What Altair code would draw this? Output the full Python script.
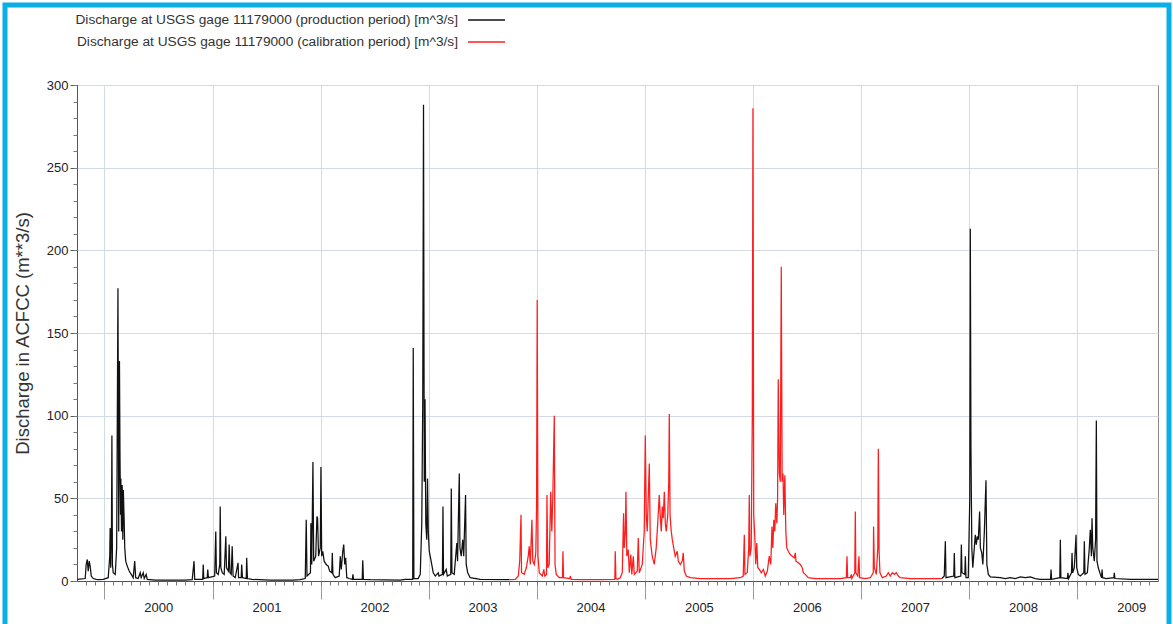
import altair as alt
import pandas as pd

# ---- vertices of the daily hydrograph: (decimal year, discharge m^3/s)
prod_wy2000 = [
    (1999.750, 1.0), (1999.824, 1.5), (1999.833, 10), (1999.843, 13), (1999.852, 6), (1999.861, 12),
    (1999.870, 9), (1999.880, 3), (1999.898, 1.5), (1999.926, 1.0), (1999.944, 0.8), (1999.991, 1.0),
    (2000.037, 2), (2000.051, 15), (2000.055, 32), (2000.060, 8), (2000.067, 30), (2000.071, 88),
    (2000.076, 10), (2000.083, 5), (2000.102, 4), (2000.115, 20), (2000.127, 177), (2000.134, 30),
    (2000.141, 133), (2000.146, 75), (2000.151, 40), (2000.154, 62), (2000.160, 30), (2000.166, 58),
    (2000.172, 25), (2000.177, 55), (2000.185, 35), (2000.190, 20), (2000.199, 12), (2000.213, 9),
    (2000.231, 6), (2000.250, 4), (2000.268, 2), (2000.282, 12), (2000.291, 2), (2000.314, 1.5),
    (2000.333, 5), (2000.342, 2), (2000.361, 5), (2000.370, 1.5), (2000.388, 4), (2000.398, 1),
    (2000.472, 0.5), (2000.749, 0.5),
]
prod_wy2001 = [
    (2000.814, 0.8), (2000.831, 12), (2000.837, 1), (2000.911, 1), (2000.916, 10), (2000.921, 1.5),
    (2000.953, 2), (2000.958, 7), (2000.964, 2), (2001.022, 3), (2001.032, 30), (2001.038, 5),
    (2001.055, 4), (2001.069, 10), (2001.073, 45), (2001.079, 8), (2001.092, 5), (2001.110, 4),
    (2001.125, 27), (2001.131, 8), (2001.149, 6), (2001.156, 22), (2001.163, 5), (2001.175, 4),
    (2001.184, 21), (2001.192, 3), (2001.212, 2), (2001.238, 11), (2001.243, 2), (2001.267, 2),
    (2001.272, 10), (2001.279, 2), (2001.314, 1.5), (2001.318, 14), (2001.325, 1.5), (2001.369, 1),
    (2001.536, 0.5), (2001.749, 0.5),
]
prod_wy2002 = [
    (2001.813, 0.8), (2001.860, 1.5), (2001.869, 37), (2001.876, 3), (2001.908, 5), (2001.912, 35),
    (2001.920, 10), (2001.931, 72), (2001.938, 12), (2001.957, 15), (2001.968, 39), (2001.974, 38),
    (2001.983, 15), (2001.999, 20), (2002.005, 69), (2002.012, 15), (2002.022, 18), (2002.035, 12),
    (2002.054, 10), (2002.072, 9), (2002.086, 6), (2002.105, 5), (2002.110, 17), (2002.116, 4),
    (2002.137, 2), (2002.174, 3), (2002.184, 15), (2002.193, 7), (2002.207, 18), (2002.216, 22),
    (2002.225, 10), (2002.234, 14), (2002.244, 2), (2002.267, 1.5), (2002.296, 1), (2002.301, 4),
    (2002.307, 1), (2002.387, 1), (2002.392, 12.5), (2002.398, 1), (2002.461, 0.8), (2002.739, 0.5),
]
prod_wy2003 = [
    (2002.785, 1), (2002.854, 1), (2002.859, 141), (2002.865, 1.5), (2002.905, 1.5), (2002.924, 4),
    (2002.938, 35), (2002.947, 110), (2002.954, 288), (2002.961, 60), (2002.968, 110), (2002.975, 35),
    (2002.984, 25), (2002.991, 62), (2002.998, 30), (2003.007, 18), (2003.016, 15), (2003.030, 10),
    (2003.044, 5), (2003.063, 3), (2003.090, 5), (2003.098, 3), (2003.129, 4), (2003.134, 45),
    (2003.139, 4), (2003.164, 7), (2003.174, 3), (2003.206, 4), (2003.211, 56), (2003.217, 5),
    (2003.238, 4), (2003.262, 23), (2003.269, 12), (2003.285, 65), (2003.291, 20), (2003.303, 15),
    (2003.317, 25), (2003.326, 15), (2003.343, 52), (2003.349, 10), (2003.363, 5), (2003.386, 2),
    (2003.479, 1), (2003.750, 0.8),
]
cal_wy2004 = [
    (2003.750, 0.8), (2003.803, 1), (2003.831, 3), (2003.844, 12), (2003.856, 40), (2003.861, 5),
    (2003.886, 4), (2003.905, 8), (2003.923, 15), (2003.932, 21), (2003.942, 10), (2003.957, 37),
    (2003.965, 12), (2003.979, 10), (2003.993, 17), (2004.000, 45), (2004.006, 170), (2004.013, 15),
    (2004.025, 5), (2004.053, 3), (2004.067, 7), (2004.076, 3), (2004.092, 4), (2004.096, 52),
    (2004.104, 8), (2004.117, 10), (2004.131, 54), (2004.141, 30), (2004.150, 50), (2004.164, 100),
    (2004.171, 10), (2004.182, 4), (2004.210, 2), (2004.240, 2), (2004.244, 18), (2004.250, 2),
    (2004.307, 1.5), (2004.312, 3), (2004.321, 1), (2004.404, 0.8), (2004.589, 0.8), (2004.724, 1),
    (2004.728, 18), (2004.734, 1.5),
]
cal_wy2005 = [
    (2004.747, 1), (2004.774, 2), (2004.793, 5), (2004.805, 41), (2004.811, 20), (2004.821, 30),
    (2004.827, 54), (2004.835, 15), (2004.848, 19), (2004.858, 5), (2004.872, 16), (2004.881, 4),
    (2004.895, 15), (2004.904, 4), (2004.932, 6), (2004.941, 26), (2004.950, 5), (2004.978, 10),
    (2004.996, 30), (2005.006, 88), (2005.015, 40), (2005.024, 30), (2005.033, 50), (2005.043, 71),
    (2005.052, 25), (2005.070, 15), (2005.089, 10), (2005.107, 20), (2005.121, 35), (2005.135, 52),
    (2005.144, 40), (2005.154, 30), (2005.163, 45), (2005.172, 38), (2005.182, 54), (2005.191, 35),
    (2005.200, 30), (2005.214, 40), (2005.223, 60), (2005.228, 101), (2005.235, 40), (2005.246, 30),
    (2005.256, 25), (2005.269, 20), (2005.283, 15), (2005.302, 18), (2005.311, 12), (2005.330, 10),
    (2005.348, 12), (2005.357, 17), (2005.367, 6), (2005.385, 3), (2005.422, 2), (2005.515, 1.5),
    (2005.700, 1.5),
]
cal_wy2006 = [
    (2005.792, 1.5), (2005.885, 2), (2005.912, 3), (2005.922, 28), (2005.928, 4), (2005.949, 5),
    (2005.963, 20), (2005.968, 52), (2005.974, 15), (2005.986, 20), (2005.996, 100), (2006.002, 286),
    (2006.009, 40), (2006.019, 27), (2006.028, 10), (2006.037, 23), (2006.047, 8), (2006.061, 7),
    (2006.079, 5), (2006.098, 7), (2006.116, 3), (2006.135, 6), (2006.153, 15), (2006.167, 10),
    (2006.178, 33), (2006.186, 20), (2006.195, 37), (2006.204, 30), (2006.213, 47), (2006.223, 35),
    (2006.230, 50), (2006.236, 122), (2006.246, 65), (2006.255, 60), (2006.264, 190), (2006.272, 60),
    (2006.280, 65), (2006.287, 40), (2006.297, 64), (2006.306, 30), (2006.315, 20), (2006.329, 18),
    (2006.347, 16), (2006.366, 15), (2006.384, 14), (2006.394, 17), (2006.400, 12), (2006.421, 11),
    (2006.440, 10), (2006.458, 8), (2006.468, 5), (2006.486, 4), (2006.514, 2), (2006.579, 1.5),
    (2006.718, 1.5),
]
cal_wy2007 = [
    (2006.810, 1.5), (2006.866, 2), (2006.872, 15), (2006.878, 2), (2006.903, 2), (2006.912, 4),
    (2006.917, 1.5), (2006.944, 5), (2006.949, 42), (2006.954, 5), (2006.972, 3), (2006.983, 15),
    (2006.989, 2), (2007.041, 1.5), (2007.088, 2), (2007.115, 5), (2007.118, 33), (2007.125, 8),
    (2007.143, 4), (2007.157, 20), (2007.162, 80), (2007.169, 18), (2007.177, 5), (2007.199, 2),
    (2007.236, 3), (2007.254, 5), (2007.273, 3), (2007.291, 5), (2007.310, 4), (2007.328, 5),
    (2007.347, 3), (2007.365, 2), (2007.458, 1.5), (2007.750, 1.5),
]
prod_wy2008 = [
    (2007.750, 1.5), (2007.772, 3), (2007.782, 24), (2007.788, 2), (2007.860, 3), (2007.865, 17),
    (2007.870, 2), (2007.925, 3), (2007.930, 22), (2007.936, 5), (2007.962, 4), (2007.967, 15),
    (2007.973, 2), (2007.994, 2), (2008.008, 50), (2008.013, 213), (2008.019, 80), (2008.027, 20),
    (2008.036, 8), (2008.050, 20), (2008.059, 28), (2008.068, 22), (2008.078, 27), (2008.087, 25),
    (2008.099, 42), (2008.106, 20), (2008.119, 17), (2008.129, 10), (2008.143, 30), (2008.158, 61),
    (2008.166, 10), (2008.180, 4), (2008.198, 2.5), (2008.291, 2), (2008.337, 1.5), (2008.383, 2),
    (2008.429, 1.5), (2008.476, 2.5), (2008.522, 2), (2008.568, 2.5), (2008.614, 1.5), (2008.661, 1),
    (2008.753, 1),
]
prod_wy2009 = [
    (2008.755, 1), (2008.760, 7), (2008.765, 1), (2008.841, 2), (2008.846, 25), (2008.851, 2),
    (2008.911, 1.5), (2008.916, 5), (2008.922, 1.5), (2008.949, 5), (2008.954, 17), (2008.960, 5),
    (2008.975, 8), (2008.991, 28), (2008.997, 8), (2009.012, 4), (2009.031, 3), (2009.063, 5),
    (2009.068, 24), (2009.074, 4), (2009.096, 5), (2009.114, 20), (2009.123, 31), (2009.133, 15),
    (2009.139, 38), (2009.146, 20), (2009.160, 12), (2009.172, 25), (2009.179, 97), (2009.185, 12),
    (2009.197, 8), (2009.216, 4), (2009.227, 2), (2009.232, 7), (2009.237, 2), (2009.271, 1.5),
    (2009.341, 2), (2009.345, 5), (2009.351, 1.5), (2009.493, 1), (2009.750, 1),
]

legend_labels = [
    "Discharge at USGS gage 11179000 (production period)  [m^3/s]",
    "Discharge at USGS gage 11179000  (calibration period) [m^3/s]",
]
y_title = "Discharge in ACFCC (m**3/s)"
year_ticks = list(range(2000, 2010))


def to_frame(pairs, seg):
    df = pd.DataFrame(pairs, columns=["yr", "q"])
    df["date"] = pd.Timestamp("2000-01-01") + pd.to_timedelta((df["yr"] - 2000.0) * 365.25, unit="D")
    df["seg"] = seg
    return df[["date", "q", "seg"]]


prod = pd.concat([
    to_frame(prod_wy2000 + prod_wy2001 + prod_wy2002 + prod_wy2003, "p1"),
    to_frame(prod_wy2008 + prod_wy2009, "p2"),
], ignore_index=True)
cal = to_frame(cal_wy2004 + cal_wy2005 + cal_wy2006 + cal_wy2007, "c1")

FONT = "Liberation Sans"
GRID = "#d3d9e6"
x_scale = alt.Scale(domain=[alt.DateTime(year=1999, month=10, date=1),
                            alt.DateTime(year=2009, month=10, date=1)], nice=False)
y_scale = alt.Scale(domain=[0, 300], nice=False)

major_x = alt.Axis(values=[alt.DateTime(year=y, month=1, date=1) for y in year_ticks],
                   format="%Y", labelOffset=54, tickSize=18, tickColor="#9a9a9a",
                   grid=True, gridColor=GRID, domainColor="#555555",
                   labelFont=FONT, labelFontSize=13, labelColor="#222222", labelPadding=2,
                   labelFlush=False, labelOverlap=False, title=None)
minor_x = alt.Axis(values=[alt.DateTime(year=y, month=m, date=1)
                           for y in range(1999, 2010) for m in range(1, 13)
                           if (y, m) >= (1999, 11) and (y, m) <= (2009, 9)],
                   tickSize=4, tickColor="#777777", labels=False, grid=False, domain=False,
                   title=None, orient="bottom")
major_y = alt.Axis(values=list(range(0, 301, 50)), tickSize=7, tickColor="#555555",
                   grid=True, gridColor=GRID, domainColor="#555555",
                   labelFont=FONT, labelFontSize=13, labelColor="#222222", labelPadding=2,
                   title=y_title, titleFont=FONT, titleFontSize=18.5, titleFontWeight="normal",
                   titleColor="#333333", titlePadding=14)
minor_y = alt.Axis(values=list(range(0, 301, 10)), tickSize=4, tickColor="#777777",
                   labels=False, grid=False, domain=False, title=None, orient="left")

prod_line = alt.Chart(prod).mark_line(color="#111111", strokeWidth=1.25, clip=True).encode(
    x=alt.X("date:T", scale=x_scale, axis=major_x),
    y=alt.Y("q:Q", scale=y_scale, axis=major_y),
    detail="seg:N",
)
cal_line = alt.Chart(cal).mark_line(color="#ff1c1c", strokeWidth=1.25, clip=True).encode(
    x=alt.X("date:T", scale=x_scale, axis=minor_x),
    y=alt.Y("q:Q", scale=y_scale, axis=minor_y),
)

leg_df1 = pd.DataFrame({"label": [legend_labels[0]]})
leg_df2 = pd.DataFrame({"label": [legend_labels[1]]})
leg_text1 = alt.Chart(leg_df1).mark_text(align="right", baseline="middle", font=FONT, fontSize=13.7,
                                         color="#333333").encode(
    text="label:N", x=alt.value(381), y=alt.value(-65))
leg_text2 = alt.Chart(leg_df2).mark_text(align="right", baseline="middle", font=FONT, fontSize=13.7,
                                         color="#333333").encode(
    text="label:N", x=alt.value(381), y=alt.value(-43))
leg_rule1 = alt.Chart(leg_df1).mark_rule(color="#111111", strokeWidth=1.5).encode(
    x=alt.value(391), x2=alt.value(428), y=alt.value(-65))
leg_rule2 = alt.Chart(leg_df2).mark_rule(color="#ff1c1c", strokeWidth=1.5).encode(
    x=alt.value(391), x2=alt.value(428), y=alt.value(-43))

frame = alt.Chart(pd.DataFrame({"k": [0]})).mark_rect(fillOpacity=0, stroke="#0aaee8",
                                                     strokeWidth=5).encode(
    x=alt.value(-72), x2=alt.value(1092), y=alt.value(-80), y2=alt.value(560))

chart = alt.layer(
    frame, prod_line, cal_line, leg_text1, leg_text2, leg_rule1, leg_rule2
).resolve_axis(
    x="independent", y="independent"
).properties(
    width=1081, height=496,
    padding={"left": 77, "top": 85, "right": 15, "bottom": 43},
    autosize=alt.AutoSizeParams(type="none"),
).configure(background="white").configure_view(stroke="#8a8a8a", strokeWidth=1)

chart.save("out.html", embed_options={"renderer": "svg", "actions": False})
